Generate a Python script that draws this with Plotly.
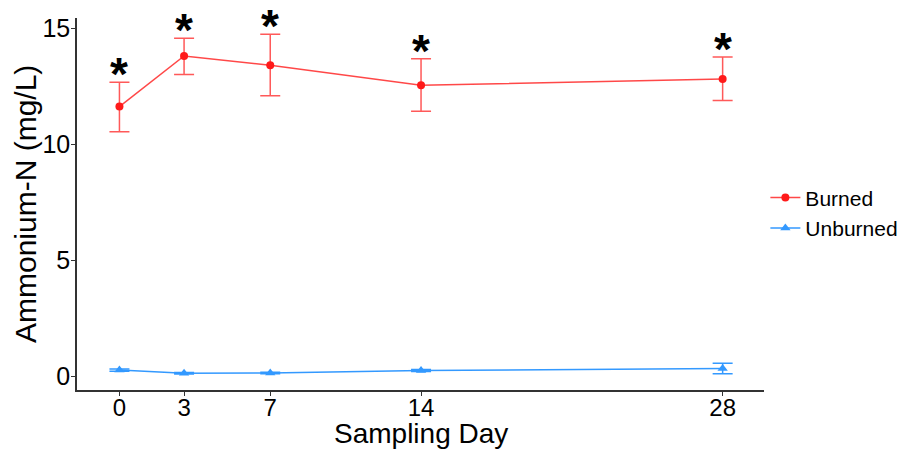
import plotly.graph_objects as go

# Sampling days and ammonium-N means with error bar limits (mg/L)
days = [0, 3, 7, 14, 28]
burned_mean = [11.62, 13.80, 13.40, 12.54, 12.81]
burned_upper = [12.67, 14.57, 14.74, 13.68, 13.76]
burned_lower = [10.53, 13.00, 12.09, 11.42, 11.88]
unburned_mean = [0.26, 0.12, 0.13, 0.24, 0.33]
unburned_upper = [0.31, 0.15, 0.16, 0.28, 0.55]
unburned_lower = [0.21, 0.09, 0.10, 0.20, 0.10]
significant = ["*", "*", "*", "*", "*"]

RED = "#FF1A1A"
BLUE = "#3399FF"
FONT = "Liberation Sans, Arial, sans-serif"


def err(mean, upper, lower):
    plus = [u - m for u, m in zip(upper, mean)]
    minus = [m - l for m, l in zip(mean, lower)]
    return plus, minus


fig = go.Figure()

bp, bm = err(burned_mean, burned_upper, burned_lower)
fig.add_trace(go.Scatter(
    x=days, y=burned_mean, name="Burned", mode="lines+markers",
    line=dict(color="rgba(255,40,40,0.85)", width=1.5),
    marker=dict(color=RED, size=8, symbol="circle"),
    error_y=dict(type="data", array=bp, arrayminus=bm, visible=True,
                 color="rgba(255,60,60,0.85)", thickness=1.5, width=10),
))

up, um = err(unburned_mean, unburned_upper, unburned_lower)
fig.add_trace(go.Scatter(
    x=days, y=unburned_mean, name="Unburned", mode="lines+markers",
    line=dict(color=BLUE, width=1.5),
    marker=dict(color=BLUE, size=9, symbol="triangle-up"),
    error_y=dict(type="data", array=up, arrayminus=um, visible=True,
                 color=BLUE, thickness=1.5, width=10),
))

# Significance markers above the burned error bars
for d, u, s in zip(days, burned_upper, significant):
    fig.add_annotation(
        x=d, y=u, text="<b>" + s + "</b>", showarrow=False, xanchor="center", yanchor="bottom",
        yshift=-20, font=dict(family=FONT, size=46, color="black"),
    )

# Axis titles
fig.add_annotation(
    x=0.5, y=0, xref="paper", yref="paper", text="Sampling Day", showarrow=False,
    xanchor="center", yanchor="middle", yshift=-43,
    font=dict(family=FONT, size=28, color="black"),
)
fig.add_annotation(
    x=0, y=0.5, xref="paper", yref="paper", text="Ammonium-N (mg/L)", showarrow=False,
    xanchor="center", yanchor="middle", xshift=-52, textangle=-90,
    font=dict(family=FONT, size=30, color="black"),
)

fig.update_layout(
    width=906, height=450,
    margin=dict(l=77, r=142, t=18, b=60, autoexpand=False),
    paper_bgcolor="white", plot_bgcolor="white",
    font=dict(family=FONT, color="black"),
    showlegend=True,
    legend=dict(
        x=1.002, y=0.476, xanchor="left", yanchor="middle",
        font=dict(family=FONT, size=21, color="black"),
        itemwidth=30, tracegroupgap=0, bgcolor="rgba(0,0,0,0)",
    ),
)

fig.update_xaxes(
    range=[-1.97, 29.92], tickvals=days, ticktext=[str(d) for d in days],
    automargin=False,
    showgrid=False, zeroline=False, showline=True, linecolor="#333333", linewidth=1.5,
    ticks="outside", ticklen=4, tickcolor="#333333", ticklabelstandoff=-9,
    tickfont=dict(family=FONT, size=24, color="black"),
)
fig.update_yaxes(
    range=[-0.6, 15.44], tickvals=[0, 5, 10, 15],
    automargin=False,
    showgrid=False, zeroline=False, showline=True, linecolor="#333333", linewidth=1.5,
    ticks="outside", ticklen=4, tickcolor="#333333", ticklabelstandoff=-4,
    tickfont=dict(family=FONT, size=25, color="black"),
)

fig.write_html("out.html")
